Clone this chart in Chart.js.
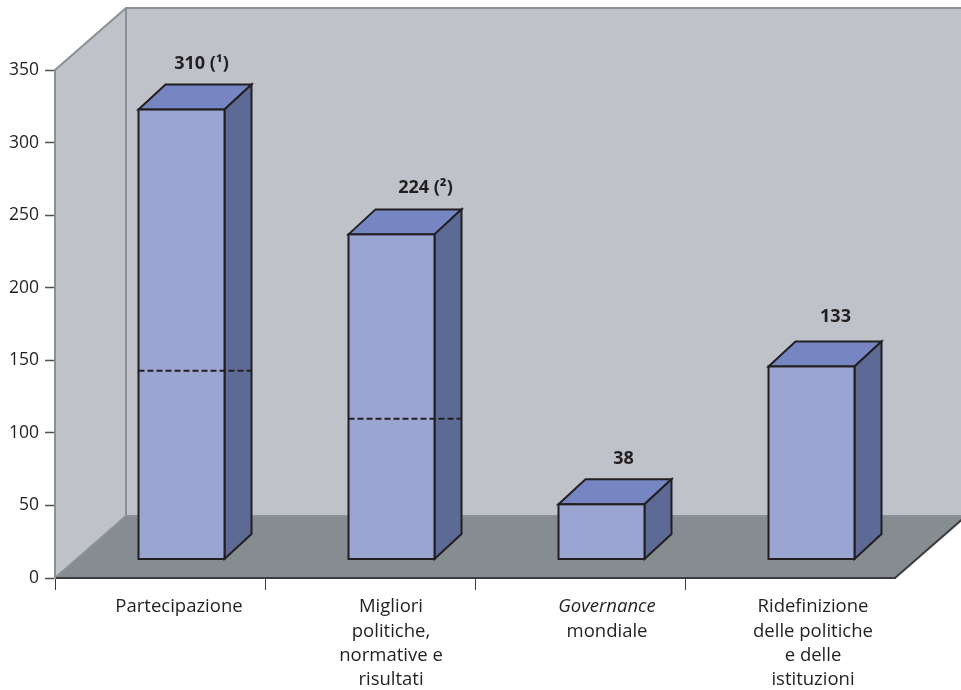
<!DOCTYPE html>
<html>
<head>
<meta charset="utf-8">
<title>Partecipazione</title>
<script src="https://cdn.jsdelivr.net/npm/chart.js@4"></script>
<style>
  html, body { margin: 0; padding: 0; background: #fff; }
  canvas { display: block; }
</style>
</head>
<body>
<canvas id="chart" width="961" height="690"></canvas>
<script>
const categories = [
  ['Partecipazione'],
  ['Migliori', 'politiche,', 'normative e', 'risultati'],
  ['Governance', 'mondiale'],
  ['Ridefinizione', 'delle politiche', 'e delle', 'istituzioni']
]
const valori = [310, 224, 38, 133]
const note = ['¹', '²', '', '']
const tratteggio = [130, 97, null, null]
const yMax = 350
const yStep = 50

const FONT = '"Open Sans", sans-serif'
const INK = '#231f20'

// box depth and how far the bars stand off the front edge of the floor
const floorDepth = { x: 71, y: -62 }
const barDepth = { x: 27, y: -25 }
const barShift = { x: 21.5, y: -18.5 }
const labelNudge = [19, 21, 27, 23]
const valueNudge = [-4, 10, -2, 0]
const valueLift = [46, 46.5, 45.5, 49.5]

function poly(ctx, pts, fill, stroke, lw) {
  ctx.beginPath()
  pts.forEach((p, i) => i ? ctx.lineTo(p[0], p[1]) : ctx.moveTo(p[0], p[1]))
  ctx.closePath()
  if (fill) { ctx.fillStyle = fill; ctx.fill() }
  if (stroke) { ctx.strokeStyle = stroke; ctx.lineWidth = lw || 1; ctx.stroke() }
}

const room = {
  id: 'room',
  beforeDraw(chart) {
    const { ctx, chartArea: a, width } = chart
    const dx = floorDepth.x, dy = floorDepth.y
    ctx.save()
    // back wall runs off the right of the canvas
    poly(ctx, [[a.left + dx, a.top + dy], [width + 2, a.top + dy], [width + 2, a.bottom + dy], [a.left + dx, a.bottom + dy]], '#bfc3c9')
    poly(ctx, [[a.left, a.top], [a.left + dx, a.top + dy], [a.left + dx, a.bottom + dy], [a.left, a.bottom]], '#bfc3c9')
    poly(ctx, [[a.left, a.bottom], [a.left + dx, a.bottom + dy], [a.right + dx, a.bottom + dy], [a.right, a.bottom]], '#868d91')
    ctx.strokeStyle = '#8b9096'
    ctx.lineWidth = 2
    ctx.beginPath()
    ctx.moveTo(a.left, a.top)
    ctx.lineTo(a.left + dx, a.top + dy)
    ctx.lineTo(width + 2, a.top + dy)
    ctx.moveTo(a.left + dx, a.top + dy)
    ctx.lineTo(a.left + dx, a.bottom + dy)
    ctx.lineTo(width + 2, a.bottom + dy)
    ctx.moveTo(a.left, a.bottom)
    ctx.lineTo(a.left + dx, a.bottom + dy)
    ctx.stroke()
    ctx.strokeStyle = '#3a3c40'
    ctx.beginPath()
    ctx.moveTo(a.right, a.bottom)
    ctx.lineTo(a.right + dx, a.bottom + dy)
    ctx.stroke()
    ctx.restore()
  },
  // bars stand a little way into the room, so the whole layer is shifted
  beforeDatasetsDraw(chart) {
    const { ctx } = chart
    const dx = barDepth.x, dy = barDepth.y
    ctx.save()
    ctx.translate(barShift.x, barShift.y)
    chart.getDatasetMeta(0).data.forEach(bar => {
      const l = bar.x - bar.width / 2, r = bar.x + bar.width / 2
      poly(ctx, [[l, bar.y], [l + dx, bar.y + dy], [r + dx, bar.y + dy], [r, bar.y]], '#7686c2', INK, 2)
      poly(ctx, [[r, bar.y], [r + dx, bar.y + dy], [r + dx, bar.base + dy], [r, bar.base]], '#5c6a95', INK, 2)
    })
  },
  afterDatasetsDraw(chart) {
    const { ctx, scales } = chart
    chart.getDatasetMeta(0).data.forEach((bar, i) => {
      const l = bar.x - bar.width / 2
      ctx.strokeStyle = INK
      ctx.lineWidth = 2
      ctx.lineJoin = 'miter'
      ctx.strokeRect(l, bar.y, bar.width, bar.base - bar.y)

      if (tratteggio[i] != null) {
        const y = scales.y.getPixelForValue(tratteggio[i])
        ctx.save()
        ctx.setLineDash([6, 3])
        ctx.lineWidth = 2
        ctx.beginPath()
        ctx.moveTo(l, y)
        ctx.lineTo(l + bar.width + barDepth.x, y)
        ctx.stroke()
        ctx.restore()
      }

      ctx.fillStyle = INK
      ctx.font = 'bold 18px ' + FONT
      ctx.textAlign = 'center'
      ctx.textBaseline = 'middle'
      const txt = valori[i] + (note[i] ? ' (' + note[i] + ')' : '')
      ctx.fillText(txt, bar.x + 24 + valueNudge[i], bar.y - valueLift[i])
    })
    ctx.restore()
  },
  // category names, "Governance" is set in italics so the axis ticks can't do it
  afterDraw(chart) {
    const { ctx, scales } = chart
    ctx.save()
    ctx.fillStyle = INK
    ctx.textAlign = 'center'
    ctx.textBaseline = 'middle'
    categories.forEach((lines, i) => {
      const x = scales.x.getPixelForTick(i) + labelNudge[i]
      lines.forEach((line, n) => {
        ctx.font = (line === 'Governance' ? 'italic ' : '') + '18.5px ' + FONT
        ctx.fillText(line, x, 607 + n * 24.3)
      })
    })
    ctx.restore()
  }
}

new Chart(document.getElementById('chart').getContext('2d'), {
  type: 'bar',
  data: {
    labels: categories,
    datasets: [{
      label: '',
      data: valori,
      backgroundColor: '#9aa5d2',
      borderWidth: 0,
      barThickness: 86
    }]
  },
  plugins: [room],
  options: {
    responsive: false,
    animation: false,
    layout: { padding: { top: 70, right: 66, left: 0, bottom: 0 } },
    plugins: {
      legend: { display: false },
      tooltip: { enabled: false }
    },
    scales: {
      x: {
        type: 'category',
        afterFit(scale) { scale.height = 112 },
        ticks: { display: false, autoSkip: false },
        border: { color: '#3a3c40', width: 2 },
        grid: {
          drawOnChartArea: false,
          tickLength: 12,
          tickWidth: 1,
          // no tick under the far end of the floor
          tickColor: c => c.type === 'tick' ? '#3a3c40' : 'rgba(0,0,0,0)'
        }
      },
      y: {
        min: 0,
        max: yMax,
        afterFit(scale) { scale.width = 55 },
        ticks: { stepSize: yStep, padding: 6, color: INK, font: { family: FONT, size: 17.5 } },
        border: { color: '#8b9096', width: 2 },
        grid: { drawOnChartArea: false, tickLength: 10, tickColor: '#4d4f53', tickWidth: 1.5 }
      }
    }
  }
})
</script>
</body>
</html>
